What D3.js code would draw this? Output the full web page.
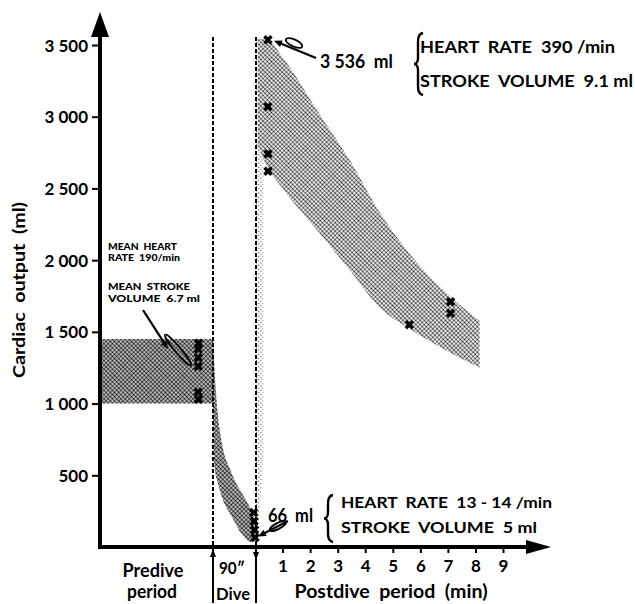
<!DOCTYPE html>
<html>
<head>
<meta charset="utf-8">
<script src="https://cdnjs.cloudflare.com/ajax/libs/d3/7.8.5/d3.min.js"></script>
<style>
  body { margin: 0; background: #fff; }
  svg { display: block; }
  text { font-family: Lato, "DejaVu Sans", sans-serif; font-weight: bold; fill: #000; }
</style>
</head>
<body>
<svg width="635" height="604"></svg>
<script>
// axis ticks
const yTicks = [500, 1000, 1500, 2000, 2500, 3000, 3500];
const yTickLabels = ["500", "1 000", "1 500", "2 000", "2 500", "3 000", "3 500"];
const postTicks = [1, 2, 3, 4, 5, 6, 7, 8, 9];

// predive band (ml), spans the whole predive period
const preSpan = [0, 1];
const preLow = 1000, preHigh = 1450;

// dive descent band, seconds of the 90" dive
const diveSec   = [0, 3, 10, 20, 36, 46, 56, 67, 78, 86, 90];
const diveUpper = [1450, 1250, 930, 700, 540, 460, 400, 340, 270, 210, 170];
const diveLower = [1000, 560, 450, 335, 230, 170, 110, 65, 35, 40, 50];

// fast rise right after surfacing (min)
const riseMin   = [0.03, 0.15, 0.3];
const riseUpper = [3540, 3540, 3540];
const riseLower = [60, 200, 600];

// postdive recovery band (min)
const postMin   = [0.1, 0.45, 1, 2.25, 3.44, 4.53, 5.72, 6.96, 8.15];
const postUpper = [3545, 3535, 3415, 3045, 2695, 2332, 2018, 1767, 1578];
const postLower = [2800, 2650, 2500, 2210, 1930, 1669, 1508, 1369, 1250];

// individual measurements
const preMarkVals  = [1420, 1380, 1320, 1260, 1080, 1030];
const diveMarkSec  = [85, 86, 87, 88];
const diveMarkVals = [240, 180, 120, 66];
const postMarkMin  = [0.47, 0.47, 0.47, 0.47, 5.6, 7.1, 7.1];
const postMarkVals = [3536, 3070, 2740, 2620, 1550, 1710, 1630];

const svg = d3.select("svg");

const y = d3.scaleLinear().domain([0, 3500]).range([547, 45]);
const xPre = d3.scaleLinear().domain([0, 1]).range([100, 213]);
const xDive = d3.scaleLinear().domain([0, 90]).range([213, 256]);
const xPost = d3.scaleLinear().domain([0, 9]).range([255, 503]);

// halftone screens
const defs = svg.append("defs");
function screen(id, r) {
  const p = defs.append("pattern")
    .attr("id", id)
    .attr("width", 3).attr("height", 3)
    .attr("patternUnits", "userSpaceOnUse")
    .attr("patternTransform", "rotate(45)");
  p.append("rect").attr("width", 3).attr("height", 3).attr("fill", "#fff");
  p.append("circle").attr("cx", 1.5).attr("cy", 1.5).attr("r", r).attr("fill", "#111");
}
screen("dotsDark", 1.25);
screen("dotsMid", 1.1);
screen("dotsLight", 0.6);

const zip = (xs, a, b) => xs.map((v, i) => ({ x: v, hi: a[i], lo: b[i] }));

// bands
svg.append("path")
  .datum(preSpan.map(t => ({ x: t })))
  .attr("fill", "url(#dotsDark)")
  .attr("d", d3.area().x(d => xPre(d.x)).y0(y(preLow)).y1(y(preHigh)));

svg.append("path")
  .datum(zip(diveSec, diveUpper, diveLower))
  .attr("fill", "url(#dotsDark)")
  .attr("d", d3.area().curve(d3.curveMonotoneX)
    .x(d => xDive(d.x)).y0(d => y(d.lo)).y1(d => y(d.hi)));

svg.append("path")
  .datum(zip(riseMin, riseUpper, riseLower))
  .attr("fill", "url(#dotsLight)")
  .attr("d", d3.area().x(d => xPost(d.x)).y0(d => y(d.lo)).y1(d => y(d.hi)));

svg.append("path")
  .datum(zip(postMin, postUpper, postLower))
  .attr("fill", "url(#dotsMid)")
  .attr("d", d3.area().curve(d3.curveMonotoneX)
    .x(d => xPost(d.x)).y0(d => y(d.lo)).y1(d => y(d.hi)));

// dive boundaries
[0, 90].forEach(s => {
  svg.append("line")
    .attr("x1", xDive(s)).attr("x2", xDive(s))
    .attr("y1", 37).attr("y2", y(0))
    .attr("stroke", "#000").attr("stroke-width", 2)
    .attr("stroke-dasharray", "4,2");
  svg.append("line")
    .attr("x1", xDive(s)).attr("x2", xDive(s))
    .attr("y1", y(0)).attr("y2", 603)
    .attr("stroke", "#000").attr("stroke-width", 2);
});
svg.append("path")
  .attr("d", `M${xDive(0)},${y(0) + 2}l-3,8h6z`);
svg.append("path")
  .attr("d", `M${xDive(90) - 3},${y(0) + 5}h6l-3,8z`);

// markers
const mark = d3.symbol().type(d3.symbolX).size(34);
const marks = [
  ...preMarkVals.map(v => [xPre(0.87), y(v)]),
  ...diveMarkSec.map((s, i) => [xDive(s), y(diveMarkVals[i])]),
  ...postMarkMin.map((m, i) => [xPost(m), y(postMarkVals[i])])
];
svg.append("g").selectAll("path")
  .data(marks)
  .enter().append("path")
  .attr("transform", d => `translate(${d[0]},${d[1]})`)
  .attr("d", mark)
  .attr("fill", "none")
  .attr("stroke", "#000")
  .attr("stroke-width", 3.4);

// y axis
const yAxis = svg.append("g")
  .attr("transform", "translate(100,0)")
  .call(d3.axisLeft(y).tickValues(yTicks)
    .tickFormat((d, i) => yTickLabels[i]).tickSize(8).tickPadding(4));
yAxis.select(".domain").remove();
yAxis.selectAll(".tick line").attr("stroke-width", 2);
yAxis.selectAll(".tick text")
  .attr("font-size", 17)
  .attr("font-family", null)
  .attr("dy", "0.36em");

svg.append("line")
  .attr("x1", 100).attr("x2", 100).attr("y1", y(0) + 2).attr("y2", 32)
  .attr("stroke", "#000").attr("stroke-width", 4);
svg.append("path").attr("d", "M100,12L109,37L91,37Z");

// x axis
svg.append("line")
  .attr("x1", 98).attr("x2", 530).attr("y1", y(0)).attr("y2", y(0))
  .attr("stroke", "#000").attr("stroke-width", 4);
svg.append("path").attr("d", `M551,${y(0)}L526,${y(0) - 7}L526,${y(0) + 7}Z`);

const xAxis = svg.append("g")
  .attr("transform", `translate(0,${y(0)})`)
  .call(d3.axisBottom(xPost).tickValues(postTicks).tickSize(6).tickPadding(7));
xAxis.select(".domain").remove();
xAxis.selectAll(".tick line").attr("stroke-width", 2);
xAxis.selectAll(".tick text")
  .attr("font-size", 17)
  .attr("font-family", null);

// text helper; double spaces kept as no-break spaces
function label(x, yy, str, size, width, opts = {}) {
  const t = svg.append("text")
    .attr("x", x).attr("y", yy)
    .attr("font-size", size)
    .attr("text-anchor", opts.anchor || "start")
    .text(str.replace(/  /g, "\u00a0 "));
  if (opts.weight) t.style("font-weight", opts.weight);
  if (width) t.attr("textLength", width).attr("lengthAdjust", "spacingAndGlyphs");
  if (opts.rotate) t.attr("transform", `rotate(${opts.rotate},${x},${yy})`);
  return t;
}

label(153, 577, "Predive", 19.5, 61, { anchor: "middle" });
label(152, 598, "period", 19.5, 50, { anchor: "middle" });
label(232, 574, "90\u2033", 17.5, 26, { anchor: "middle" });
label(233, 600, "Dive", 17.5, 34, { anchor: "middle" });
label(391, 598, "Postdive  period  (min)", 18, 193, { anchor: "middle" });
label(25, 290, "Cardiac  output  (ml)", 17.5, 176, { anchor: "middle", rotate: -90 });

label(320, 68, "3 536  ml", 18, 73);
label(420, 53, "HEART  RATE  390 /min", 17.5, 195);
label(420, 87, "STROKE  VOLUME  9.1 ml", 17.5, 213);

label(268, 522, "66  ml", 18, 45);
label(341, 508, "HEART  RATE  13 - 14 /min", 16, 211);
label(341, 533, "STROKE  VOLUME  5 ml", 16, 196);

label(108, 250, "MEAN  HEART", 9.5, 69, { weight: 900 });
label(108, 261, "RATE  190/min", 9.5, 72, { weight: 900 });
label(108, 290, "MEAN  STROKE", 9.5, 82, { weight: 900 });
label(108, 302, "VOLUME  6.7 ml", 9.5, 92, { weight: 900 });

// braces
function brace(x0, y1, y2) {
  const ym = (y1 + y2) / 2;
  svg.append("path")
    .attr("d", `M${x0 + 9},${y1} C${x0 + 4},${y1 + 1} ${x0 + 4},${y1 + 6} ${x0 + 4},${y1 + 10}
      L${x0 + 4},${ym - 6} C${x0 + 4},${ym - 2} ${x0 + 2},${ym} ${x0},${ym}
      C${x0 + 2},${ym} ${x0 + 4},${ym + 2} ${x0 + 4},${ym + 6}
      L${x0 + 4},${y2 - 10} C${x0 + 4},${y2 - 6} ${x0 + 4},${y2 - 1} ${x0 + 9},${y2}`)
    .attr("fill", "none").attr("stroke", "#000").attr("stroke-width", 2.4);
}
brace(414, 33, 95);
brace(324, 495, 542);

// leaders with paper-clip loops
function leader(x1, y1, x2, y2, cx, cy, rx, ry, ang) {
  const a = Math.atan2(y2 - y1, x2 - x1);
  svg.append("line")
    .attr("x1", x1).attr("y1", y1)
    .attr("x2", x2 - 6 * Math.cos(a)).attr("y2", y2 - 6 * Math.sin(a))
    .attr("stroke", "#000").attr("stroke-width", 2.2);
  const h = 8, w = 3.5;
  const bx = x2 - h * Math.cos(a), by = y2 - h * Math.sin(a);
  svg.append("path")
    .attr("d", `M${x2},${y2}L${bx + w * Math.sin(a)},${by - w * Math.cos(a)}L${bx - w * Math.sin(a)},${by + w * Math.cos(a)}Z`);
  svg.append("ellipse")
    .attr("cx", cx).attr("cy", cy).attr("rx", rx).attr("ry", ry)
    .attr("transform", `rotate(${ang},${cx},${cy})`)
    .attr("fill", "none").attr("stroke", "#000").attr("stroke-width", 1.8);
}
leader(316, 58, xPost(0.47) + 6, y(3536) + 1, 294, 43, 9, 3.5, 25);
leader(288, 521, xDive(90) + 2, y(66) - 1, 278, 526, 9, 3, -28);
leader(143, 310, 168, 349, 178, 350, 20, 3, 50);
</script>
</body>
</html>
